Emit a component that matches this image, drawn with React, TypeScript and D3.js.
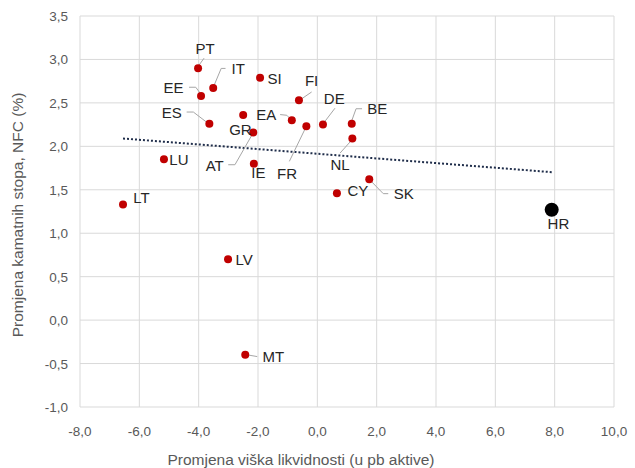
import React from "react";
import * as d3 from "d3";

const countries = ["PT","IT","EE","SI","FI","ES","GR","AT","EA","FR","DE","BE","NL","IE","LU","LT","CY","SK","LV","MT"];
const liquidityChange = [-4.02,-3.51,-3.92,-1.93,-0.62,-3.64,-2.50,-2.16,-0.86,-0.37,0.19,1.16,1.18,-2.14,-5.17,-6.55,0.66,1.75,-3.01,-2.43];
const rateChange = [2.90,2.67,2.58,2.79,2.53,2.26,2.36,2.16,2.30,2.23,2.25,2.26,2.09,1.80,1.85,1.33,1.46,1.62,0.70,-0.40];
const hrName = "HR";
const hrLiquidity = 7.9;
const hrRate = 1.27;
const xTicks = [-8,-6,-4,-2,0,2,4,6,8,10];
const yTicks = [-1,-0.5,0,0.5,1,1.5,2,2.5,3,3.5];
const xTitle = "Promjena viška likvidnosti (u pb aktive)";
const yTitle = "Promjena kamatnih stopa, NFC (%)";

// label layout: offset of label centre from dot, optional leader polyline (offsets from dot)
const labelLayout: Record<string, { dx: number; dy: number; leader?: number[][] }> = {
  PT: { dx: 7, dy: -20, leader: [[1, -3], [6, -10]] },
  IT: { dx: 25, dy: -19.7, leader: [[1, -3], [8, -19.7], [12.3, -19.7]] },
  EE: { dx: -27.5, dy: -8.7, leader: [[-12, -8.7], [-5.3, -8.7], [-1, -3]] },
  SI: { dx: 14.5, dy: 0.6 },
  FI: { dx: 12.7, dy: -19.6, leader: [[2, -1], [12.7, -8.3]] },
  ES: { dx: -37.5, dy: -11.7, leader: [[-22.7, -11.7], [-16, -11.7], [-2, -1]] },
  GR: { dx: -2.7, dy: 14.4 },
  AT: { dx: -38.5, dy: 33.3, leader: [[-25, 32.3], [-18.3, 32.3], [-1, 2]] },
  EA: { dx: -25.5, dy: -5.7, leader: [[-11.7, -5.7], [-5, -5], [-1, -1]] },
  FR: { dx: -19.3, dy: 46.7, leader: [[-17, 35], [-1, 2]] },
  DE: { dx: 11.3, dy: -26.4, leader: [[1, -2], [12, -16.4]] },
  BE: { dx: 25.5, dy: -15, leader: [[0, -3], [4.3, -15], [10.3, -15]] },
  NL: { dx: -12.3, dy: 25.6, leader: [[-12.3, 14.6], [-1, 2]] },
  IE: { dx: 4.6, dy: 9 },
  LU: { dx: 15, dy: 0 },
  LT: { dx: 18.5, dy: -7.4 },
  CY: { dx: 21, dy: -3 },
  SK: { dx: 34.5, dy: 14.3, leader: [[1, 1], [14, 14.3], [19, 14.3]] },
  LV: { dx: 16, dy: 0 },
  MT: { dx: 28, dy: 1.7, leader: [[2, 0], [12, 1.7]] },
  HR: { dx: 6.7, dy: 14 },
};

const fmt = (v: number) => v.toFixed(1).replace(".", ",");

export default function App() {
  const W = 635, H = 468;
  const x = d3.scaleLinear().domain([-8, 10]).range([80, 614]);
  const y = d3.scaleLinear().domain([-1, 3.5]).range([407, 16]);

  // linear trend over all points
  const allX = [...liquidityChange, hrLiquidity];
  const allY = [...rateChange, hrRate];
  const mx = d3.mean(allX)!, my = d3.mean(allY)!;
  let sxy = 0, sxx = 0;
  allX.forEach((xi, i) => { sxy += (xi - mx) * (allY[i] - my); sxx += (xi - mx) ** 2; });
  const slope = sxy / sxx, icpt = my - slope * mx;
  const [x0, x1] = d3.extent(allX) as [number, number];
  const line = d3.line<number[]>().x(d => d[0]).y(d => d[1]);

  const font = "'Liberation Sans', Arial, sans-serif";
  const points = countries.map((c, i) => ({ c, px: x(liquidityChange[i]), py: y(rateChange[i]) }));
  const hr = { c: hrName, px: x(hrLiquidity), py: y(hrRate) };

  return (
    <svg width={W} height={H} style={{ position: "absolute", left: 0, top: 0 }} fontFamily={font}>
      <rect width={W} height={H} fill="#fff" />
      {xTicks.map(t => (
        <line key={"gx" + t} x1={x(t)} x2={x(t)} y1={y(3.5)} y2={y(-1)} stroke="#d9d9d9" strokeWidth={1} />
      ))}
      {yTicks.map(t => (
        <line key={"gy" + t} x1={x(-8)} x2={x(10)} y1={y(t)} y2={y(t)} stroke="#d9d9d9" strokeWidth={1} />
      ))}
      {xTicks.map(t => (
        <text key={"tx" + t} x={x(t)} y={436} textAnchor="middle" fontSize={13.5} fill="#595959">{fmt(t)}</text>
      ))}
      {yTicks.map(t => (
        <text key={"ty" + t} x={68} y={y(t) + 5} textAnchor="end" fontSize={13.5} fill="#595959">{fmt(t)}</text>
      ))}
      <text x={301} y={465} textAnchor="middle" fontSize={15.5} fill="#595959">{xTitle}</text>
      <text transform={`translate(23,215) rotate(-90)`} textAnchor="middle" fontSize={15.5} fill="#595959">{yTitle}</text>

      <line x1={x(x0)} y1={y(icpt + slope * x0)} x2={x(x1)} y2={y(icpt + slope * x1)}
        stroke="#1f2d4a" strokeWidth={2} strokeDasharray="2 2" />

      {[...points, hr].map(p => {
        const L = labelLayout[p.c];
        if (!L || !L.leader) return null;
        return (
          <path key={"ld" + p.c} d={line(L.leader.map(q => [p.px + q[0], p.py + q[1]]))!}
            fill="none" stroke="#a6a6a6" strokeWidth={1} />
        );
      })}
      {points.map(p => (
        <circle key={"pt" + p.c} cx={p.px} cy={p.py} r={4} fill="#c00000" />
      ))}
      <circle cx={hr.px} cy={hr.py} r={7} fill="#000" />
      {[...points, hr].map(p => {
        const L = labelLayout[p.c];
        return (
          <text key={"lb" + p.c} x={p.px + L.dx} y={p.py + L.dy + 5.5} textAnchor="middle" fontSize={15} fill="#262626">{p.c}</text>
        );
      })}
    </svg>
  );
}
